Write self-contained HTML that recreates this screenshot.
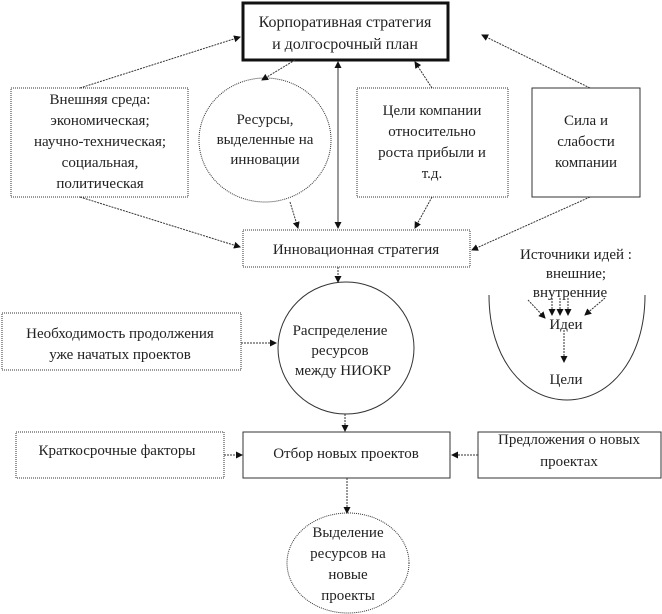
<!DOCTYPE html>
<html><head><meta charset="utf-8"><style>
html,body{margin:0;padding:0;background:#fff}
svg{display:block}
text{font-family:"Liberation Serif",serif;font-size:15px;fill:#222;text-anchor:middle}
</style></head><body>
<svg width="662" height="614" viewBox="0 0 662 614" xmlns="http://www.w3.org/2000/svg">
<defs>
<marker id="a" markerWidth="7" markerHeight="7" refX="6" refY="3.5" orient="auto" markerUnits="userSpaceOnUse">
<path d="M0,0 L7,3.5 L0,7 z" fill="#111"/></marker>
</defs>
<g fill="none" stroke="#333" stroke-width="1">
<rect x="11" y="88" width="177" height="109" stroke-dasharray="1,1"/>
<ellipse cx="265" cy="140" rx="66" ry="62" stroke-dasharray="1,1"/>
<rect x="357" y="88" width="151" height="109" stroke-dasharray="1,1"/>
<rect x="532" y="88" width="108" height="109"/>
<rect x="243" y="230" width="227" height="37" stroke-dasharray="1,1"/>
<ellipse cx="346" cy="348" rx="68" ry="66"/>
<rect x="2" y="313" width="239" height="57" stroke-dasharray="1,1"/>
<path d="M489,295 C489,360 525,400 567,400 C609,400 645,360 645,295"/>
<rect x="16" y="432" width="208" height="46" stroke-dasharray="1,1"/>
<rect x="243" y="432" width="207" height="46"/>
<rect x="478" y="432" width="183" height="46"/>
<ellipse cx="348" cy="563" rx="61" ry="50" stroke-dasharray="1,1"/>
</g>
<rect x="243" y="3" width="205" height="57" fill="none" stroke="#111" stroke-width="3"/>
<g stroke="#333" stroke-width="1" stroke-dasharray="2,1" fill="none" marker-end="url(#a)">
<line x1="80" y1="88" x2="240" y2="37"/>
<line x1="295" y1="60" x2="262" y2="80"/>
<line x1="338" y1="220" x2="338" y2="62"/>
<line x1="338" y1="70" x2="338" y2="228"/>
<line x1="432" y1="88" x2="415" y2="62"/>
<line x1="590" y1="88" x2="482" y2="35"/>
<line x1="80" y1="197" x2="240" y2="247"/>
<line x1="290" y1="202" x2="298" y2="228"/>
<line x1="432" y1="197" x2="415" y2="228"/>
<line x1="590" y1="197" x2="472" y2="250"/>
<line x1="338" y1="267" x2="338" y2="282"/>
<line x1="241" y1="343" x2="276" y2="343"/>
<line x1="345" y1="414" x2="345" y2="431"/>
<line x1="224" y1="455" x2="242" y2="455"/>
<line x1="478" y1="455" x2="452" y2="455"/>
<line x1="347" y1="478" x2="347" y2="513"/>
<line x1="528" y1="300" x2="545" y2="318"/>
<line x1="552" y1="298" x2="552" y2="315"/>
<line x1="560" y1="298" x2="560" y2="315"/>
<line x1="568" y1="298" x2="568" y2="315"/>
<line x1="605" y1="298" x2="585" y2="315"/>
<line x1="564" y1="330" x2="564" y2="362"/>
</g>
<text x="345" y="27" style="font-size:16px">Корпоративная стратегия</text>
<text x="345" y="49" style="font-size:16px">и долгосрочный план</text>
<text x="100" y="104">Внешняя среда:</text>
<text x="100" y="125">экономическая;</text>
<text x="100" y="146">научно-техническая;</text>
<text x="100" y="167">социальная,</text>
<text x="100" y="188">политическая</text>
<text x="265" y="124">Ресурсы,</text>
<text x="265" y="144">выделенные на</text>
<text x="265" y="164">инновации</text>
<text x="432" y="115">Цели компании</text>
<text x="432" y="136">относительно</text>
<text x="432" y="157">роста прибыли и</text>
<text x="432" y="178">т.д.</text>
<text x="586" y="125">Сила и</text>
<text x="586" y="146">слабости</text>
<text x="586" y="167">компании</text>
<text x="356" y="254">Инновационная стратегия</text>
<text x="576" y="259">Источники идей :</text>
<text x="576" y="278">внешние;</text>
<text x="570" y="297">внутренние</text>
<text x="566" y="329">Идеи</text>
<text x="566" y="384">Цели</text>
<text x="120" y="338">Необходимость продолжения</text>
<text x="120" y="359">уже начатых проектов</text>
<text x="340" y="335">Распределение</text>
<text x="340" y="355">ресурсов</text>
<text x="343" y="375">между НИОКР</text>
<text x="117" y="455">Краткосрочные факторы</text>
<text x="346" y="458">Отбор новых проектов</text>
<text x="569" y="444">Предложения о новых</text>
<text x="569" y="466">проектах</text>
<text x="348" y="537">Выделение</text>
<text x="348" y="558">ресурсов на</text>
<text x="348" y="579">новые</text>
<text x="348" y="600">проекты</text>
</svg>
</body></html>
